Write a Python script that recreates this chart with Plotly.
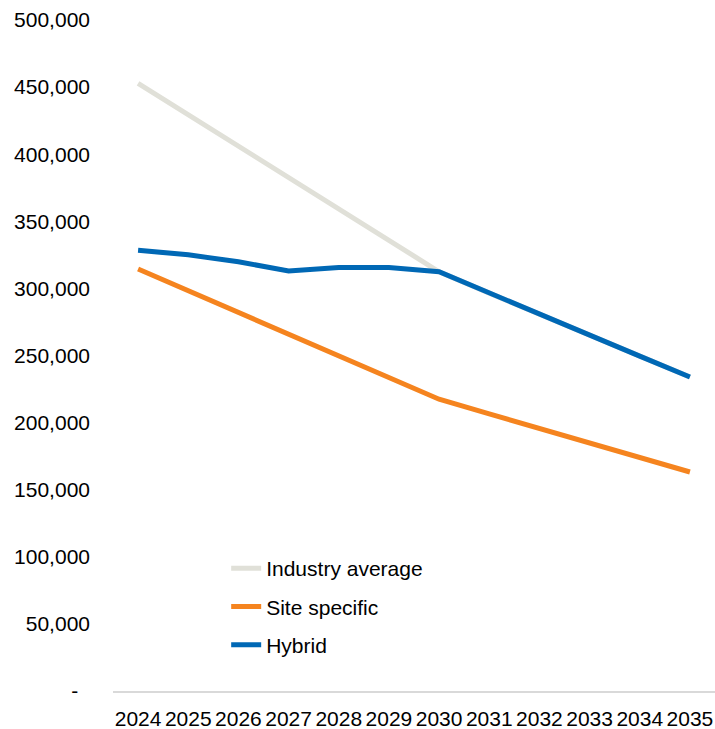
import plotly.graph_objects as go

years = [str(y) for y in range(2024, 2036)]
industry_average = [452800, 429500, 406200, 382900, 359600, 336300, 312400,
                    296500, 280800, 265000, 249500, 234000]
site_specific = [314400, 298200, 282000, 265800, 249600, 233500, 217400,
                 206500, 195700, 184900, 174000, 163200]
hybrid = [328400, 325000, 319800, 313000, 315500, 315500, 312400,
          296500, 280800, 265000, 249500, 234000]

y_tickvals = [0, 50000, 100000, 150000, 200000, 250000, 300000, 350000,
              400000, 450000, 500000]
y_ticktext = ["-\u00a0\u00a0", "50,000", "100,000", "150,000", "200,000", "250,000",
              "300,000", "350,000", "400,000", "450,000", "500,000"]

font_family = "Liberation Sans, Arial, sans-serif"

fig = go.Figure()
series = [
    ("Industry average", industry_average, "#E0E0D8"),
    ("Site specific", site_specific, "#F5841F"),
    ("Hybrid", hybrid, "#0068B5"),
]
for name, vals, color in series:
    fig.add_trace(go.Scatter(
        x=years, y=vals, name=name, mode="lines",
        line=dict(color=color, width=5),
        legendgroup=name,
    ))

fig.update_layout(
    width=715, height=729,
    margin=dict(l=113, r=0, t=20, b=38),
    paper_bgcolor="white", plot_bgcolor="white",
    font=dict(family=font_family, size=21, color="#000000"),
    showlegend=True,
    legend=dict(
        x=0.188, y=0.213, xanchor="left", yanchor="top",
        font=dict(family=font_family, size=21, color="#000000"),
        traceorder="grouped", tracegroupgap=8,
        bgcolor="rgba(0,0,0,0)",
    ),
    xaxis=dict(
        type="category", showgrid=False, zeroline=False,
        range=[-0.5, 11.5],
        showline=True, linecolor="#D9D9D9", linewidth=1.5,
        ticks="", ticklabelstandoff=8,
        tickfont=dict(size=21),
    ),
    yaxis=dict(
        range=[0, 500000], showgrid=False, zeroline=False, showline=False,
        tickvals=y_tickvals, ticktext=y_ticktext, ticks="",
        ticklabelstandoff=22, tickfont=dict(size=21),
    ),
)

fig.write_html("out.html")
